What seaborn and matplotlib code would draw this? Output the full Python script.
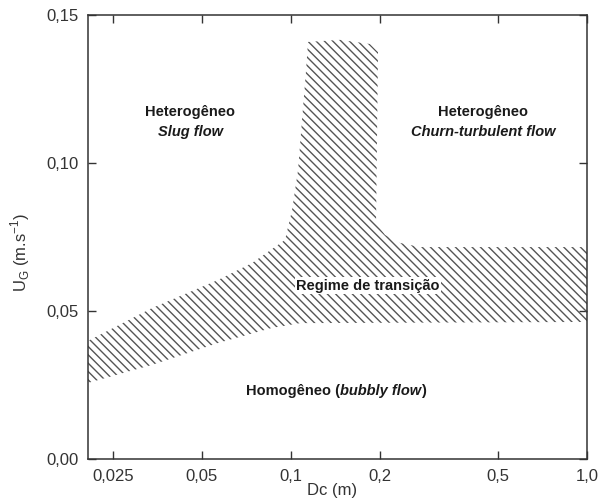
import matplotlib
matplotlib.use("Agg")
import matplotlib.pyplot as plt
import seaborn as sns
import numpy as np

# ---- data ----
# upper boundary of the transition region (left arm -> stem -> right arm)
upper_dc = [0.0206, 0.0339, 0.0567, 0.0738, 0.0954, 0.1008, 0.1056, 0.1089,
            0.1124, 0.1141, 0.1464, 0.1849, 0.1967, 0.1937, 0.2078, 0.2335,
            0.2728, 1.0]
upper_ug = [0.0399, 0.0510, 0.0605, 0.0662, 0.0740, 0.0841, 0.0976, 0.1145,
            0.1314, 0.1409, 0.1416, 0.1402, 0.1375, 0.0797, 0.0757, 0.0730,
            0.0716, 0.0716]
# lower boundary (right -> left)
lower_dc = [1.0, 0.1073, 0.0863, 0.0567, 0.0339, 0.0206]
lower_ug = [0.0463, 0.0459, 0.0443, 0.0392, 0.0318, 0.0257]

x_ticks = [0.025, 0.05, 0.1, 0.2, 0.5, 1.0]
x_ticklabels = ["0,025", "0,05", "0,1", "0,2", "0,5", "1,0"]
y_ticks = [0.0, 0.05, 0.10, 0.15]
y_ticklabels = ["0,00", "0,05", "0,10", "0,15"]

sns.set_theme(style="ticks")
plt.rcParams["font.family"] = ["Liberation Sans", "DejaVu Sans"]
plt.rcParams["hatch.linewidth"] = 1.0
plt.rcParams["axes.edgecolor"] = "#333333"
plt.rcParams["axes.linewidth"] = 1.1

fig = plt.figure(figsize=(6.03, 5.04), dpi=100)
ax = fig.add_axes([88 / 603, 45 / 504, 499 / 603, 444 / 504])

poly_x = upper_dc + lower_dc
poly_y = upper_ug + lower_ug
ax.fill(poly_x, poly_y, facecolor="none", edgecolor="#555555",
        linewidth=0, hatch="\\\\\\\\")

ax.set_xscale("log")
ax.set_xlim(0.0206, 1.0)
ax.set_ylim(0.0, 0.15)
ax.set_xticks(x_ticks)
ax.set_xticklabels(x_ticklabels)
ax.xaxis.set_minor_locator(matplotlib.ticker.NullLocator())
ax.set_yticks(y_ticks)
ax.set_yticklabels(y_ticklabels)

ax.tick_params(axis="both", which="major", direction="in", length=6,
               width=1.0, color="#333333", labelsize=12, labelcolor="#333333",
               top=True, right=True, pad=7)

ax.set_xlabel("Dc (m)", fontsize=12, color="#333333")
ax.set_ylabel(r"U$_{\mathregular{G}}$ (m.s$^{\mathregular{-1}}$)",
              fontsize=12, color="#333333")
ax.xaxis.set_label_coords(0.49, -0.055)
ax.yaxis.set_label_coords(-0.112, 0.465)

fs = 10.5
tc = "#1a1a1a"
ax.text(0.0456, 0.1172, "Heterogêneo", ha="center", va="center",
        fontsize=fs, fontweight="bold", color=tc)
ax.text(0.0456, 0.1104, "Slug flow", ha="center", va="center",
        fontsize=fs, fontweight="bold", style="italic", color=tc)
ax.text(0.445, 0.1172, "Heterogêneo", ha="center", va="center",
        fontsize=fs, fontweight="bold", color=tc)
ax.text(0.445, 0.1104, "Churn-turbulent flow", ha="center", va="center",
        fontsize=fs, fontweight="bold", style="italic", color=tc)
ax.text(0.182, 0.0585, "Regime de transição", ha="center", va="center",
        fontsize=fs, fontweight="bold", color=tc,
        bbox=dict(boxstyle="square,pad=0.1", facecolor="white",
                  edgecolor="none"))

t1 = ax.text(0.0705, 0.0215, "Homogêneo (", ha="left", va="baseline",
             fontsize=fs, fontweight="bold", color=tc)
t2 = ax.annotate("bubbly flow", xy=(1, 0), xycoords=t1, ha="left",
                 va="bottom", fontsize=fs, fontweight="bold",
                 style="italic", color=tc)
t3 = ax.annotate(")", xy=(1, 0), xycoords=t2, ha="left", va="bottom",
                 fontsize=fs, fontweight="bold", color=tc)

fig.savefig("out.png", dpi=100)
